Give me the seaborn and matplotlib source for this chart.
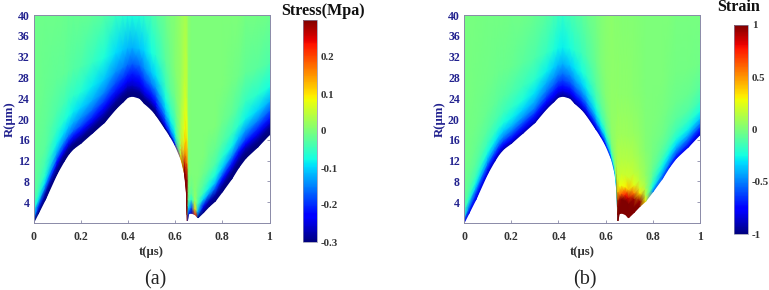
import numpy as np
import matplotlib
matplotlib.use("Agg")
import matplotlib.pyplot as plt
import seaborn as sns

# bubble wall radius
times = [0, .02, .05, .1, .13, .15, .17, .2, .25, .3, .35, .38, .4, .42, .45, .47, .5, .52, .56, .58, .6, .625, .64, .648, .652,
         .658, .67, .685, .697, .72, .745, .77, .8, .84, .87, .9, .95, 1]
wall = [0, 1.8, 4.5, 9.5, 11.9, 13.3, 14.3, 15.3, 17.3, 19.3, 22, 23.3, 24.2, 24.4, 24, 23, 21.8, 20.7, 18, 16.6, 15, 12.3, 9.5, 6, .4,
        1.8, 1.9, 1.6, 1, 2, 3.2, 4.2, 6, 8.5, 10.7, 12.5, 14.6, 17]
# fraction of the way from the wall up to the top of the plot
heights = [0, .03, .07, .1, .14, .2, .28, .4, .6, 1]

stress = [
 [-.3, -.1, -.05, -.03, -.02, -.02, -.015, -.01, -.01, -.01],
 [-.3, -.2, -.08, -.05, -.035, -.025, -.02, -.015, -.01, -.01],
 [-.3, -.28, -.15, -.09, -.06, -.04, -.025, -.02, -.015, -.01],
 [-.3, -.29, -.23, -.17, -.12, -.08, -.055, -.035, -.02, -.01],
 [-.3, -.3, -.24, -.19, -.14, -.095, -.065, -.04, -.02, -.012],
 [-.3, -.3, -.25, -.2, -.15, -.11, -.075, -.05, -.025, -.015],
 [-.3, -.3, -.25, -.21, -.16, -.12, -.085, -.055, -.03, -.015],
 [-.3, -.3, -.26, -.22, -.18, -.14, -.1, -.065, -.035, -.015],
 [-.3, -.3, -.27, -.24, -.2, -.16, -.12, -.085, -.05, -.02],
 [-.3, -.3, -.28, -.26, -.23, -.19, -.15, -.11, -.07, -.03],
 [-.3, -.3, -.29, -.27, -.25, -.21, -.18, -.14, -.095, -.05],
 [-.3, -.3, -.29, -.28, -.25, -.22, -.19, -.15, -.11, -.06],
 [-.3, -.3, -.29, -.28, -.26, -.23, -.2, -.16, -.115, -.065],
 [-.3, -.3, -.29, -.28, -.26, -.24, -.21, -.17, -.12, -.07],
 [-.3, -.3, -.29, -.27, -.25, -.23, -.2, -.16, -.11, -.065],
 [-.3, -.3, -.28, -.26, -.24, -.21, -.18, -.14, -.1, -.055],
 [-.3, -.3, -.27, -.25, -.22, -.19, -.15, -.11, -.075, -.04],
 [-.3, -.29, -.26, -.23, -.2, -.17, -.13, -.09, -.06, -.03],
 [-.3, -.22, -.18, -.15, -.12, -.09, -.07, -.045, -.025, -.01],
 [-.28, -.18, -.13, -.11, -.08, -.06, -.04, -.02, -.01, 0],
 [-.25, -.13, -.09, -.07, -.05, -.035, -.02, -.005, .005, .005],
 [.12, .07, .05, .045, .04, .035, .03, .025, .02, .02],
 [.3, .3, .25, .18, .12, .09, .08, .065, .045, .03],
 [.3, .3, .3, .3, .28, .2, .12, .08, .05, .03],
 [.3, .3, .3, .3, .3, .3, .15, .08, .04, .025],
 [-.2, -.1, -.03, -.01, 0, .005, .005, .005, .005, .01],
 [-.27, -.18, -.06, -.025, -.01, 0, 0, 0, 0, 0],
 [.2, .1, .03, .015, .005, 0, 0, 0, 0, 0],
 [-.3, -.12, -.04, -.02, -.01, 0, 0, 0, 0, 0],
 [-.3, -.24, -.1, -.05, -.03, -.01, 0, 0, 0, 0],
 [-.3, -.27, -.13, -.08, -.05, -.02, -.01, 0, 0, 0],
 [-.3, -.28, -.17, -.11, -.07, -.035, -.015, 0, 0, 0],
 [-.3, -.29, -.22, -.16, -.1, -.06, -.03, -.01, 0, 0],
 [-.3, -.3, -.25, -.2, -.14, -.08, -.045, -.02, -.005, 0],
 [-.3, -.3, -.26, -.22, -.16, -.11, -.06, -.035, -.01, 0],
 [-.3, -.3, -.27, -.23, -.18, -.13, -.08, -.05, -.02, -.005],
 [-.3, -.3, -.27, -.24, -.2, -.15, -.1, -.06, -.025, -.005],
 [-.3, -.3, -.28, -.25, -.21, -.17, -.12, -.075, -.035, -.01],
]

strain = [
 [-.8, -.2, -.1, -.07, -.05, -.04, -.03, -.03, -.02, -.01],
 [-.8, -.5, -.2, -.12, -.08, -.05, -.03, -.02, -.01, -.01],
 [-.8, -.65, -.35, -.22, -.14, -.08, -.05, -.03, -.02, -.01],
 [-.85, -.7, -.48, -.36, -.24, -.15, -.09, -.05, -.03, -.02],
 [-.88, -.73, -.52, -.4, -.28, -.18, -.11, -.065, -.035, -.02],
 [-.9, -.75, -.55, -.43, -.32, -.21, -.13, -.08, -.04, -.02],
 [-.9, -.76, -.57, -.46, -.35, -.24, -.15, -.09, -.045, -.02],
 [-.9, -.78, -.6, -.5, -.38, -.27, -.18, -.11, -.05, -.025],
 [-.9, -.8, -.65, -.55, -.44, -.33, -.23, -.15, -.08, -.03],
 [-.9, -.82, -.7, -.6, -.5, -.4, -.3, -.2, -.11, -.05],
 [-.92, -.85, -.75, -.68, -.6, -.5, -.4, -.28, -.17, -.09],
 [-.93, -.87, -.78, -.72, -.65, -.55, -.46, -.34, -.22, -.13],
 [-.94, -.89, -.8, -.75, -.68, -.6, -.5, -.38, -.26, -.16],
 [-.95, -.9, -.82, -.77, -.7, -.62, -.52, -.4, -.28, -.18],
 [-.94, -.88, -.79, -.73, -.66, -.57, -.47, -.35, -.24, -.14],
 [-.92, -.86, -.76, -.7, -.62, -.52, -.42, -.3, -.2, -.11],
 [-.91, -.83, -.7, -.63, -.54, -.44, -.34, -.24, -.15, -.08],
 [-.9, -.8, -.66, -.58, -.48, -.38, -.28, -.19, -.11, -.05],
 [-.85, -.7, -.5, -.4, -.3, -.22, -.14, -.08, -.04, -.01],
 [-.8, -.6, -.38, -.28, -.19, -.12, -.07, -.03, 0, .01],
 [-.75, -.5, -.28, -.18, -.1, -.05, -.01, .02, .03, .03],
 [-.55, -.25, -.08, -.02, .02, .04, .05, .05, .04, .04],
 [-.4, -.05, .03, .05, .06, .06, .06, .05, .04, .03],
 [-.3, .05, .1, .1, .1, .09, .08, .06, .04, .03],
 [1, 1, 1, 1, .5, .2, .14, .09, .05, .03],
 [1, 1, .95, .55, .27, .17, .13, .08, .04, .03],
 [1, 1, 1, .6, .28, .18, .13, .08, .04, .02],
 [1, 1, 1, .75, .3, .18, .13, .08, .04, .02],
 [1, 1, 1, .88, .42, .2, .14, .08, .04, .02],
 [1, 1, .95, .55, .25, .16, .11, .07, .03, .02],
 [1, .95, .33, .2, .14, .1, .07, .04, .02, .01],
 [.3, .15, .1, .08, .05, .04, .02, .01, 0, 0],
 [-.5, -.25, -.12, -.08, -.04, -.02, -.01, 0, 0, 0],
 [-.6, -.42, -.28, -.2, -.12, -.07, -.03, -.01, 0, 0],
 [-.68, -.5, -.35, -.26, -.17, -.1, -.055, -.025, -.01, 0],
 [-.75, -.6, -.42, -.32, -.22, -.14, -.08, -.04, -.02, -.01],
 [-.8, -.65, -.5, -.38, -.27, -.18, -.1, -.05, -.02, -.01],
 [-.85, -.75, -.58, -.47, -.35, -.24, -.15, -.08, -.03, -.01],
]

x_ticks = [0, .2, .4, .6, .8, 1]
x_labels = ["0", "0.2", "0.4", "0.6", "0.8", "1"]
r_ticks = [4, 8, 12, 16, 20, 24, 28, 32, 36, 40]
stress_ticks = [-.3, -.2, -.1, 0, .1, .2]
stress_labels = ["-0.3", "-0.2", "-0.1", "0", "0.1", "0.2"]
strain_ticks = [-1, -.5, 0, .5, 1]
strain_labels = ["-1", "-0.5", "0", "0.5", "1"]

sns.set_theme(style="ticks")
plt.rcParams["font.family"] = ["Liberation Serif", "DejaVu Serif"]
plt.rcParams["axes.unicode_minus"] = False

W, H = 769, 290
fig = plt.figure(figsize=(W / 100, H / 100), dpi=100)
jet = matplotlib.colormaps["jet"]
NAVY = "#22228f"
DARK = "#333333"
EDGE = "#8a8aa8"


def box(l, t, r, b):
    return [l / W, 1 - b / H, (r - l) / W, (b - t) / H]


T = np.array(times)
R = np.array(wall)
S = np.array(heights)
XX = np.repeat(T[:, None], len(S), axis=1)
YY = R[:, None] + S[None, :] * (40 - R[:, None])


def panel(left, field, vmin, vmax, cax_box, cticks, clabels, title, title_xy, tag, tag_x):
    ax = fig.add_axes(box(left, 15, left + 236, 223))
    mesh = ax.pcolormesh(XX, YY, np.array(field), cmap=jet, vmin=vmin, vmax=vmax,
                         shading="gouraud", rasterized=True)
    ax.set_xlim(0, 1)
    ax.set_ylim(0, 40)
    ax.set_xticks(x_ticks, x_labels)
    ax.set_yticks(r_ticks)
    ax.set_yticklabels([str(v) for v in r_ticks])
    ax.tick_params(axis="both", direction="in", length=2.2, width=.6, color=EDGE,
                   top=True, right=True, labelsize=8.5)
    ax.tick_params(axis="x", pad=6)
    ax.tick_params(axis="y", pad=3)
    for lab in ax.get_xticklabels():
        lab.set_fontweight("bold")
        lab.set_color(DARK)
    for lab in ax.get_yticklabels():
        lab.set_fontweight("bold")
        lab.set_color(NAVY)
    for sp in ax.spines.values():
        sp.set_color(EDGE)
        sp.set_linewidth(.7)
    ax.set_xlabel("t(μs)", fontsize=9.2, fontweight="bold", color=DARK, labelpad=2)
    ax.set_ylabel("R(μm)", fontsize=9.2, fontweight="bold", color=NAVY, labelpad=1.5)

    cax = fig.add_axes(box(*cax_box))
    cb = fig.colorbar(mesh, cax=cax)
    cb.set_ticks(cticks, labels=clabels)
    cb.ax.tick_params(length=0, labelsize=7.8, pad=2.8, labelcolor=DARK)
    for lab in cb.ax.get_yticklabels():
        lab.set_fontweight("bold")
    cb.outline.set_edgecolor(EDGE)
    cb.outline.set_linewidth(.5)
    fig.text(title_xy[0] / W, 1 - title_xy[1] / H, title, fontsize=11.6, fontweight="bold",
             ha="center", va="center", color="#111111")
    fig.text(tag_x / W, 1 - 280 / H, tag, fontsize=14.5, ha="center", va="center", color="#222222")


panel(33.5, stress, -.3, .3, (303, 20, 317, 242), stress_ticks, stress_labels,
      "Stress(Mpa)", (323, 11), "(a)", 155)
panel(464, strain, -1, 1, (734, 25, 748, 234), strain_ticks, strain_labels,
      "Strain", (739, 7), "(b)", 585)

fig.savefig("out.png", dpi=100)
